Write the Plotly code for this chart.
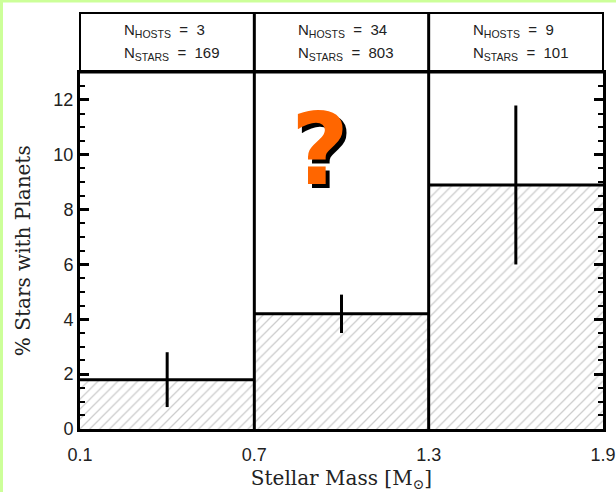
import plotly.graph_objects as go

# ---- data ----
bin_edges = [0.1, 0.7, 1.3, 1.9]
bin_centers = [0.4, 1.0, 1.6]
pct_planets = [1.8, 4.2, 8.9]
err_plus = [1.0, 0.7, 2.9]
err_minus = [1.0, 0.7, 2.9]
n_hosts = [3, 34, 9]
n_stars = [169, 803, 101]
x_ticks = [0.1, 0.7, 1.3, 1.9]
y_ticks = [0, 2, 4, 6, 8, 10, 12]

W, H = 616, 492
ML, MR, MT, MB = 80, 13, 13, 63
PW = W - ML - MR
PH = H - MT - MB
main_top = (PH - 59.5) / PH  # paper y of main-plot top

fig = go.Figure()

# hatched fills
fig.add_trace(go.Bar(
    x=bin_centers, y=pct_planets, width=[b - a for a, b in zip(bin_edges[:-1], bin_edges[1:])],
    marker=dict(color="white", line=dict(width=0),
                pattern=dict(shape="/", fgcolor="#9a9a9a", bgcolor="white", size=7, solidity=0.18)),
    showlegend=False, hoverinfo="skip"))

# horizontal tops of histogram
for i in range(len(pct_planets)):
    fig.add_trace(go.Scatter(
        x=[bin_edges[i], bin_edges[i + 1]], y=[pct_planets[i], pct_planets[i]],
        mode="lines", line=dict(color="black", width=3), showlegend=False, hoverinfo="skip"))

# error bars
fig.add_trace(go.Scatter(
    x=bin_centers, y=pct_planets, mode="markers", marker=dict(size=1, color="black", opacity=0),
    error_y=dict(type="data", array=err_plus, arrayminus=err_minus, color="black", thickness=3, width=0),
    showlegend=False, hoverinfo="skip"))

shapes = []
# bin separators spanning main plot and header box
for e in bin_edges[1:-1]:
    shapes.append(dict(type="line", xref="x", yref="paper", x0=e, x1=e, y0=0, y1=1,
                       line=dict(color="black", width=3)))
# header box
shapes.append(dict(type="rect", xref="paper", yref="paper", x0=0, x1=1, y0=main_top, y1=1,
                   line=dict(color="black", width=2)))
# green strips at left and top of the page
shapes.append(dict(type="rect", xref="paper", yref="paper",
                   x0=-ML / PW, x1=(3 - ML) / PW, y0=-MB / PH, y1=(PH + MT) / PH,
                   fillcolor="#ccff99", line=dict(width=0)))
shapes.append(dict(type="rect", xref="paper", yref="paper",
                   x0=-ML / PW, x1=(W - ML) / PW, y0=(PH + MT - 2.5) / PH, y1=(PH + MT) / PH,
                   fillcolor="#ccff99", line=dict(width=0)))

annotations = []
txt_font = dict(family="Liberation Sans, Arial, sans-serif", size=15, color="#222")
for i in range(len(n_hosts)):
    annotations.append(dict(
        x=bin_edges[i] + 0.145, y=1 - 18 / PH, xref="x", yref="paper", xanchor="left", yanchor="middle",
        text=f"N<sub>HOSTS</sub> &nbsp;=&nbsp; {n_hosts[i]}", showarrow=False, font=txt_font))
    annotations.append(dict(
        x=bin_edges[i] + 0.145, y=1 - 41 / PH, xref="x", yref="paper", xanchor="left", yanchor="middle",
        text=f"N<sub>STARS</sub> &nbsp;=&nbsp; {n_stars[i]}", showarrow=False, font=txt_font))

# question mark with drop shadow
q_font = "DejaVu Sans, Verdana, sans-serif"
q_x, q_y = 0.925, 10.2
annotations.append(dict(x=q_x, y=q_y, xref="x", yref="y", text="<b>?</b>", showarrow=False,
                        font=dict(family=q_font, size=100, color="#ff6600",
                                  shadow="4px 4px 0px black")))

fig.update_layout(
    width=W, height=H,
    margin=dict(l=ML, r=MR, t=MT, b=MB, pad=0),
    paper_bgcolor="white", plot_bgcolor="white",
    bargap=0, shapes=shapes, annotations=annotations,
    xaxis=dict(range=[bin_edges[0], bin_edges[-1]], tickvals=x_ticks, ticktext=[str(v) for v in x_ticks],
               showline=True, linecolor="black", linewidth=3, mirror=True, ticks="", showgrid=False,
               zeroline=False, automargin=False,
               tickfont=dict(family="Liberation Sans, Arial, sans-serif", size=18, color="#222"),
               ticklabelstandoff=7,
               title=dict(text="Stellar Mass [M<sub>⊙</sub>]", standoff=12,
                          font=dict(family="DejaVu Serif, serif", size=20, color="#222"))),
    yaxis=dict(range=[0, 13], domain=[0, main_top], tickvals=y_ticks,
               showline=True, linecolor="black", linewidth=3, mirror="allticks",
               ticks="inside", ticklen=9, tickwidth=3, tickcolor="black",
               minor=dict(dtick=0.5, ticks="inside", ticklen=5, tickwidth=2, tickcolor="black"),
               showgrid=False, zeroline=False, automargin=False,
               tickfont=dict(family="Liberation Sans, Arial, sans-serif", size=18, color="#222"),
               title=dict(text="% Stars with Planets", standoff=18,
                          font=dict(family="DejaVu Serif, serif", size=20, color="#222"))),
)

fig.write_html("out.html")
